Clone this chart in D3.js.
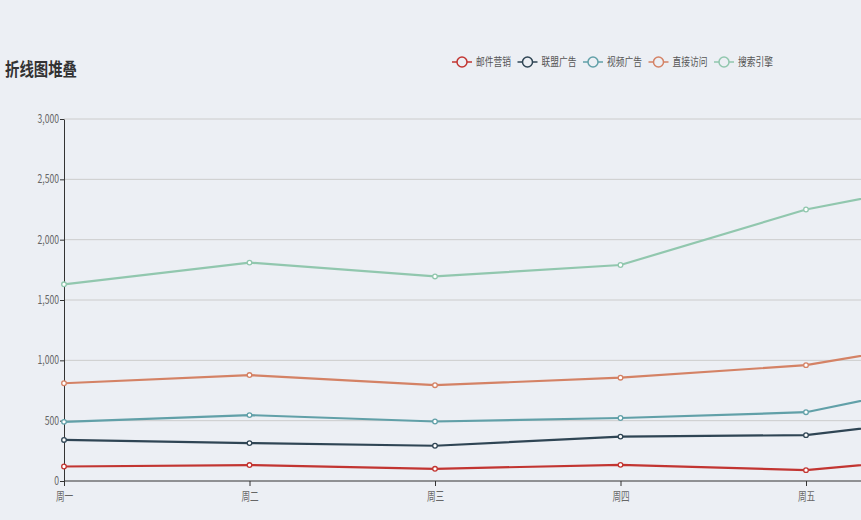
<!DOCTYPE html>
<meta charset="utf-8">
<style>
  html, body { margin: 0; padding: 0; background: #ecEff4; overflow: hidden; }
  svg { display: block; font-family: "Noto Sans CJK SC", "Noto Sans", sans-serif; }
</style>
<div id="chart"></div>
<script src="https://cdn.jsdelivr.net/npm/d3@7"></script>
<script>
  // data
  const days = ["周一", "周二", "周三", "周四", "周五", "周六", "周日"];
  const seriesNames = ["邮件营销", "联盟广告", "视频广告", "直接访问", "搜索引擎"];
  const mail = [120, 132, 101, 134, 90, 230, 210];
  const union = [220, 182, 191, 234, 290, 330, 310];
  const video = [150, 232, 201, 154, 190, 330, 410];
  const direct = [320, 332, 301, 334, 390, 330, 320];
  const search = [820, 932, 901, 934, 1290, 1330, 1320];
  const yTicks = [0, 500, 1000, 1500, 2000, 2500, 3000];
  const colors = ["#c23531", "#2f4554", "#61a0a8", "#d48265", "#91c7ae"];

  const width = 861, height = 520;
  const values = [mail, union, video, direct, search];

  // stack the series on top of each other
  const rows = days.map((d, i) => {
    const r = { day: d };
    seriesNames.forEach((n, k) => r[n] = values[k][i]);
    return r;
  });
  const stacked = d3.stack().keys(seriesNames)(rows);

  const x = d3.scalePoint().domain(days).range([64, 64 + 6 * 185.5]);
  const y = d3.scaleLinear().domain([0, 3000]).range([481, 119]);

  const svg = d3.select("#chart").append("svg")
      .attr("width", width).attr("height", height);

  // title
  svg.append("text")
      .attr("x", 5 / 0.8).attr("y", 76)
      .attr("transform", "scale(0.8,1)")
      .attr("font-size", 18).attr("font-weight", "bold").attr("fill", "#333")
      .text("折线图堆叠");

  // grid
  svg.append("g")
    .selectAll("line")
    .data(yTicks.slice(1))
    .join("line")
      .attr("x1", 64).attr("x2", width)
      .attr("y1", d => y(d)).attr("y2", d => y(d))
      .attr("stroke", "#ccc").attr("stroke-width", 1);

  // y axis
  const yAxis = svg.append("g")
      .attr("transform", "translate(64,0)")
      .call(d3.axisLeft(y).tickValues(yTicks).tickFormat(d3.format(",")).tickSize(4).tickSizeOuter(0));
  yAxis.select(".domain").attr("stroke", "#333");
  yAxis.selectAll(".tick line").attr("stroke", "#333");
  yAxis.selectAll(".tick text")
      .attr("fill", "#666").attr("font-size", 12)
      .attr("font-family", "'Noto Sans CJK SC', sans-serif")
      .attr("x", -5 / 0.72)
      .attr("dy", "0.28em")
      .attr("transform", "scale(0.72,1)");

  // x axis, only the days that fall inside the picture get a label
  const shownDays = days.filter(d => x(d) <= width);
  const xAxis = svg.append("g")
      .attr("transform", "translate(0,481)")
      .call(d3.axisBottom(x).tickValues(shownDays).tickSize(5).tickSizeOuter(0));
  xAxis.select(".domain").attr("stroke", "#333").attr("d", `M64,0H${width}`);
  xAxis.selectAll(".tick line").attr("stroke", "#333");
  xAxis.selectAll(".tick text")
      .attr("fill", "#666").attr("font-size", 12)
      .attr("font-family", "'Noto Sans CJK SC', sans-serif")
      .attr("y", 11)
      .attr("transform", "scale(0.72,1)");

  // lines
  const line = d3.line()
      .x(d => x(d.data.day))
      .y(d => y(d[1]));

  const series = svg.append("g")
    .selectAll("g")
    .data(stacked)
    .join("g");

  series.append("path")
      .attr("d", line)
      .attr("fill", "none")
      .attr("stroke", (d, i) => colors[i])
      .attr("stroke-width", 2.2);

  series.selectAll("circle")
    .data((d, i) => d.map(p => ({ p, i })))
    .join("circle")
      .attr("cx", d => x(d.p.data.day))
      .attr("cy", d => y(d.p[1]))
      .attr("r", 2.3)
      .attr("fill", "#fff")
      .attr("stroke", d => colors[d.i])
      .attr("stroke-width", 1.3);

  // legend
  const legendX = d3.scalePoint().domain(seriesNames).range([452, 714]);
  const legend = svg.append("g")
    .selectAll("g")
    .data(seriesNames)
    .join("g")
      .attr("transform", d => `translate(${legendX(d)},62)`);

  legend.append("line")
      .attr("x1", 0).attr("x2", 20)
      .attr("stroke", (d, i) => colors[i]).attr("stroke-width", 1.5);
  legend.append("circle")
      .attr("cx", 10).attr("r", 5)
      .attr("fill", "#ecEff4")
      .attr("stroke", (d, i) => colors[i]).attr("stroke-width", 1.5);
  legend.append("text")
      .attr("x", 24 / 0.76).attr("y", 4)
      .attr("transform", "scale(0.76,1)")
      .attr("font-size", 11.5).attr("fill", "#555")
      .text(d => d);
</script>
